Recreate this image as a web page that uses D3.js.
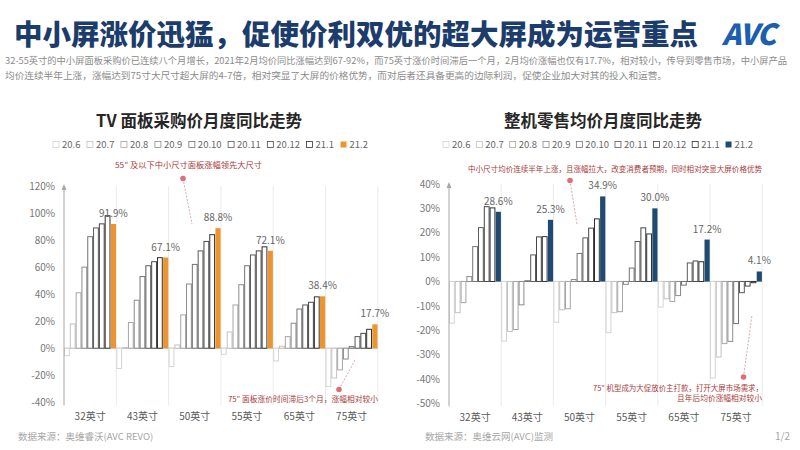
<!DOCTYPE html>
<html><head><meta charset="utf-8">
<script src="https://cdn.jsdelivr.net/npm/d3@7/dist/d3.min.js"></script>
<style>
body{margin:0;background:#fff}
svg{display:block}
text{font-family:"Noto Sans CJK SC","Noto Sans",sans-serif}
</style>
</head><body>
<svg id="c" width="800" height="450"></svg>
<script>
// ---------- data ----------
const series = ["20.6","20.7","20.8","20.9","20.10","20.11","20.12","21.1","21.2"];
const categories = ["32英寸","43英寸","50英寸","55英寸","65英寸","75英寸"];
// TV panel purchase price YoY (%), one row per size, one value per month
const panelValues = [
  [-5.5, 18, 41, 60, 82.5, 89, 92, 98, 91.9],
  [-15, 0.5, 19, 35.5, 53, 61, 64, 67, 67.1],
  [-13.6, 2.4, 24.7, 47.5, 62, 72, 79, 84, 88.8],
  [-4.5, 12, 32, 47, 61, 69, 72, 75, 72.1],
  [-9.4, 1.5, 8.6, 18.5, 29, 32, 34, 38, 38.4],
  [-28.4, -22, -16, -8, 1.2, 8.6, 11, 14, 17.7]
];
// Retail average price YoY (%)
const retailValues = [
  [-17.1, -12.8, -8.7, 2.0, 14.3, 22.1, 30.7, 30.2, 28.6],
  [-24.5, -20.5, -19.7, -9.6, 0.3, 10.9, 18.3, 18.4, 25.3],
  [-16.7, -11.6, -11.2, 0.8, 11.5, 17.9, 21.9, 25.7, 34.9],
  [-21, -12.8, -12.4, -1.2, 5.5, 16.4, 22, 19.5, 30.0],
  [-10.5, -7.1, -8.2, -5.8, -1.5, 7.6, 8.4, 8.1, 17.2],
  [-39.6, -31, -25.5, -24.6, -17.3, -4.6, -1.9, -0.5, 4.1]
];
const panelTicks = [120, 100, 80, 60, 40, 20, 0, -20, -40];
const retailTicks = [40, 30, 20, 10, 0, -10, -20, -30, -40, -50];

const titleText = "中小屏涨价迅猛，促使价利双优的超大屏成为运营重点";
const summaryLines = [
  "32-55英寸的中小屏面板采购价已连续八个月增长，2021年2月均价同比涨幅达到67-92%，而75英寸涨价时间滞后一个月，2月均价涨幅也仅有17.7%，相对较小，传导到零售市场，中小屏产品",
  "均价连续半年上涨，涨幅达到75寸大尺寸超大屏的4-7倍，相对突显了大屏的价格优势，而对后者还具备更高的边际利润，促使企业加大对其的投入和运营。"
];

// ---------- drawing ----------
const svg = d3.select("#c");
const outline = ["#d4d4d4","#c2c2c2","#a6a6a6","#8c8c8c","#737373","#595959","#474747","#303030"];

svg.append("text").attr("x", 14).attr("y", 45)
  .attr("font-size", 28.5).attr("font-weight", 900).attr("fill", "#1c3c6c")
  .text(titleText);
svg.append("text").attr("x", 722).attr("y", 45)
  .attr("font-size", 29).attr("font-weight", 900).attr("font-style", "italic")
  .attr("fill", "#1d5fae").attr("font-family", "Liberation Sans, Arial, sans-serif")
  .attr("letter-spacing", -1).text("AVC");

svg.append("text").attr("x", 5).attr("y", 64).attr("font-size", 9).attr("fill", "#8a8a8a")
  .attr("textLength", 782).attr("lengthAdjust", "spacingAndGlyphs").text(summaryLines[0]);
svg.append("text").attr("x", 5).attr("y", 79).attr("font-size", 9).attr("fill", "#8a8a8a")
  .attr("textLength", 662).attr("lengthAdjust", "spacingAndGlyphs").text(summaryLines[1]);

function drawChart(cfg) {
  const g = svg.append("g");
  const x = d3.scaleBand().domain(categories).range([cfg.x0, cfg.x1]).padding(0);
  const xs = d3.scaleBand().domain(series).range([0, x.bandwidth()]).padding(0);
  const y = d3.scaleLinear().domain(cfg.domain).range([cfg.yBottom, cfg.yTop]);

  // title
  g.append("text").attr("x", cfg.titleX).attr("y", 127).attr("text-anchor", "middle")
    .attr("font-size", 16.5).attr("font-weight", 700).attr("fill", "#262626").text(cfg.title);

  // legend: spread items evenly across target width
  const lg = g.append("g");
  const items = lg.selectAll("g").data(series).join("g");
  items.append("rect").attr("x", 0).attr("y", -6.5).attr("width", 6).attr("height", 6)
    .attr("fill", (d, i) => i === 8 ? cfg.color : "#fff")
    .attr("stroke", (d, i) => i === 8 ? "none" : outline[i]).attr("stroke-width", 0.8);
  items.append("text").attr("x", 9).attr("y", 0).attr("font-size", 9.5).attr("fill", "#666")
    .attr("font-family", "Liberation Serif, serif").text(d => d);
  const widths = [];
  items.each(function () { widths.push(this.getBBox().width); });
  const gap = (cfg.legendW - d3.sum(widths)) / (series.length - 1);
  let lx = cfg.legendX;
  items.each(function (d, i) {
    d3.select(this).attr("transform", `translate(${lx},148)`);
    lx += widths[i] + gap;
  });

  // group separators
  g.selectAll("line.sep").data(categories).join("line")
    .attr("x1", d => x(d) + x.bandwidth()).attr("x2", d => x(d) + x.bandwidth())
    .attr("y1", cfg.yTop).attr("y2", cfg.yBottom + 3)
    .attr("stroke", "#ebebeb").attr("stroke-width", 1);

  // zero line
  g.append("line").attr("x1", cfg.x0).attr("x2", cfg.x1).attr("y1", y(0)).attr("y2", y(0))
    .attr("stroke", "#bfbfbf").attr("stroke-width", 1);

  // bars
  const groups = g.selectAll("g.grp").data(categories).join("g")
    .attr("transform", d => `translate(${x(d)},0)`);
  groups.selectAll("rect").data((c, ci) => cfg.values[ci].map((v, si) => ({ v, si })))
    .join("rect")
    .attr("x", d => xs(series[d.si]) + (d.si === 8 ? 0.3 : 0.5))
    .attr("width", d => xs.bandwidth() - (d.si === 8 ? 0.6 : 1))
    .attr("y", d => Math.min(y(d.v), y(0)))
    .attr("height", d => Math.abs(y(d.v) - y(0)))
    .attr("fill", d => d.si === 8 ? cfg.color : "#fff")
    .attr("stroke", d => d.si === 8 ? "none" : outline[d.si])
    .attr("stroke-width", 1);

  // value labels for latest month
  groups.append("text")
    .attr("x", xs(series[8]) + xs.bandwidth() / 2)
    .attr("y", (c, ci) => y(Math.max(0, cfg.values[ci][8])) - 7)
    .attr("text-anchor", "middle").attr("font-size", 10).attr("fill", "#666")
    .attr("font-family", "Liberation Serif, serif")
    .text((c, ci) => cfg.values[ci][8].toFixed(1) + "%");

  // y axis labels
  const ya = g.append("g").attr("transform", `translate(${cfg.x0},0)`)
    .call(d3.axisLeft(y).tickValues(cfg.ticks).tickFormat(d => d + "%").tickSize(0).tickPadding(9));
  ya.select(".domain").remove();
  ya.selectAll("text").attr("font-size", 10).attr("fill", "#777")
    .attr("font-family", "Liberation Serif, serif");

  // axis line with arrow
  g.append("line").attr("x1", cfg.x0).attr("x2", cfg.x0).attr("y1", cfg.yTop + 2).attr("y2", cfg.yBottom + 3)
    .attr("stroke", "#a6a6a6").attr("stroke-width", 1);
  g.append("path").attr("d", `M${cfg.x0 - 2.5},${cfg.yTop + 4} L${cfg.x0},${cfg.yTop - 2} L${cfg.x0 + 2.5},${cfg.yTop + 4} Z`)
    .attr("fill", "#a6a6a6");

  // category axis
  const xa = g.append("g").attr("transform", `translate(0,${cfg.yBottom + 3})`)
    .call(d3.axisBottom(x).tickSize(0).tickPadding(8));
  xa.select(".domain").remove();
  xa.selectAll("text").attr("font-size", 10).attr("fill", "#595959");
  return { x, xs, y };
}

drawChart({
  title: "TV 面板采购价月度同比走势", titleX: 199, legendX: 53, legendW: 315,
  x0: 64, x1: 377.8, yTop: 186, yBottom: 402.3, domain: [-40, 120],
  values: panelValues, ticks: panelTicks, color: "#ec9530"
});
drawChart({
  title: "整机零售均价月度同比走势", titleX: 603, legendX: 443, legendW: 310,
  x0: 449, x1: 762.2, yTop: 184, yBottom: 403.3, domain: [-50, 40],
  values: retailValues, ticks: retailTicks, color: "#1f4a72"
});

// annotations
const red = "#a8393a";
function note(x, y, t, len, anchor) {
  svg.append("text").attr("x", x).attr("y", y).attr("font-size", 7.6).attr("fill", red)
    .attr("text-anchor", anchor || "start")
    .attr("textLength", len).attr("lengthAdjust", "spacingAndGlyphs").text(t);
}
function pointer(x1, y1, x2, y2) {
  svg.append("line").attr("x1", x1).attr("y1", y1).attr("x2", x2).attr("y2", y2)
    .attr("stroke", "#dba9a9").attr("stroke-width", 1).attr("stroke-dasharray", "2,1.5");
  svg.append("circle").attr("cx", x1).attr("cy", y1).attr("r", 2.8).attr("fill", "#d9707a");
}
note(115, 168, "55″ 及以下中小尺寸面板涨幅领先大尺寸", 147);
pointer(183, 178.5, 192, 224);
note(228, 402, "75″ 面板涨价时间滞后3个月，涨幅相对较小", 150);
pointer(339, 389.5, 355, 360);
note(468, 172, "中小尺寸均价连续半年上涨，且涨幅拉大，改变消费者预期，同时相对突显大屏价格优势", 294);
pointer(570, 180.5, 577, 224);
note(593, 391, "75″ 机型成为大促放价主打款，打开大屏市场需求，", 170);
note(677, 400.5, "且年后均价涨幅相对较小", 85);
pointer(743.5, 377, 752, 315);

// sources
svg.append("text").attr("x", 18).attr("y", 440).attr("font-size", 9.5).attr("fill", "#a6a6a6")
  .text("数据来源：奥维睿沃(AVC REVO)");
svg.append("text").attr("x", 425).attr("y", 440).attr("font-size", 9.5).attr("fill", "#a6a6a6")
  .text("数据来源：奥维云网(AVC)监测");
svg.append("text").attr("x", 790).attr("y", 440).attr("font-size", 10).attr("fill", "#a6a6a6")
  .attr("text-anchor", "end").text("1/2");
</script>
</body></html>
